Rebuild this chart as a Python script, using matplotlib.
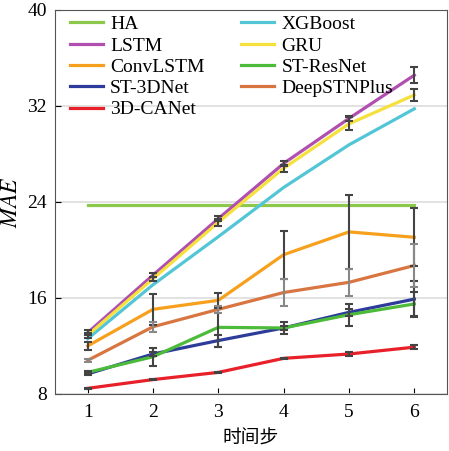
import numpy as np
import matplotlib
matplotlib.use("Agg")
import matplotlib.pyplot as plt

plt.rcParams['font.family'] = ['Liberation Serif', 'Noto Sans CJK SC']
plt.rcParams['mathtext.fontset'] = 'stix'

steps = [1, 2, 3, 4, 5, 6]

# MAE per model
ha = [23.75, 23.75, 23.75, 23.75, 23.75, 23.75]
xgboost = [12.6, 17.1, 21.1, 25.2, 28.75, 31.75]
lstm = [13.1, 17.9, 22.6, 27.2, 30.95, 34.55]
gru = [12.9, 17.6, 22.3, 26.8, 30.5, 32.9]
convlstm = [12.0, 15.05, 15.8, 19.6, 21.5, 21.05]
st_resnet = [9.8, 11.1, 13.55, 13.5, 14.6, 15.5]
st_3dnet = [9.67, 11.33, 12.45, 13.5, 14.8, 15.9]
deepstn = [10.8, 13.6, 15.05, 16.45, 17.3, 18.7]
canet = [8.47, 9.2, 9.8, 10.97, 11.33, 11.9]

# error bar half widths
lstm_err = [0.2, 0.15, 0.2, 0.2, 0.2, 0.65]
gru_err = [0.2, 0.15, 0.3, 0.3, 0.55, 0.5]
convlstm_err = [0.3, 1.3, 0.6, 2.0, 3.1, 2.4]
st_resnet_err = [0.1, 0.75, 1.67, 0.5, 0.9, 1.0]
st_3dnet_err = [0.1, 0.2, 0.5, 0.2, 0.3, 1.5]
deepstn_err = [0.1, 0.4, 0.3, 1.1, 1.15, 1.75]
canet_err = [0.05, 0.05, 0.05, 0.05, 0.15, 0.15]

fig = plt.figure(figsize=(4.49, 4.51), dpi=100)
ax = fig.add_axes([0.1225, 0.1264, 0.873, 0.852])

ax.grid(axis='y', color='#dddddd', linewidth=1.2, zorder=0)

series = [
    ("HA", ha, None, "#8cc84b"),
    ("LSTM", lstm, lstm_err, "#b04fb0"),
    ("ConvLSTM", convlstm, convlstm_err, "#f7a01e"),
    ("ST-3DNet", st_3dnet, st_3dnet_err, "#2d3c9b"),
    ("3D-CANet", canet, canet_err, "#e8202a"),
    ("XGBoost", xgboost, None, "#52c5d6"),
    ("GRU", gru, gru_err, "#f6e03c"),
    ("ST-ResNet", st_resnet, st_resnet_err, "#4cbb3a"),
    ("DeepSTNPlus", deepstn, deepstn_err, "#d87540"),
]

for name, vals, err, col in series:
    ax.plot(steps, vals, color=col, linewidth=2.3, label=name, zorder=3)

for name, vals, err, col in series:
    if err is not None:
        ecol = '#888888' if name == "DeepSTNPlus" else '#444444'
        ax.errorbar(steps, vals, yerr=err, fmt='none', ecolor=ecol,
                    elinewidth=1.5, capsize=3, capthick=1.5, zorder=4)

ax.set_xlim(0.5, 6.5)
ax.set_ylim(8, 40)
ax.set_xticks(steps)
ax.set_yticks([8, 16, 24, 32, 40])
ax.tick_params(labelsize=14, direction='in', length=4)
ax.tick_params(axis='x', pad=7)
ax.tick_params(axis='y', pad=6)
ax.set_ylabel("$MAE$", fontsize=17)
ax.yaxis.set_label_coords(-0.084, 0.5)
ax.set_xlabel("时间步", fontsize=13.5, family=['Noto Sans CJK SC'])
ax.xaxis.set_label_coords(0.5, -0.088)
for s in ax.spines.values():
    s.set_color('#555555')

ax.legend(ncol=2, loc='upper left', bbox_to_anchor=(0.018, 1.005),
          frameon=False, fontsize=14, borderaxespad=0,
          handlelength=1.7, handletextpad=0.36, columnspacing=1.9,
          labelspacing=0.19)

fig.savefig("out.png", dpi=100)
